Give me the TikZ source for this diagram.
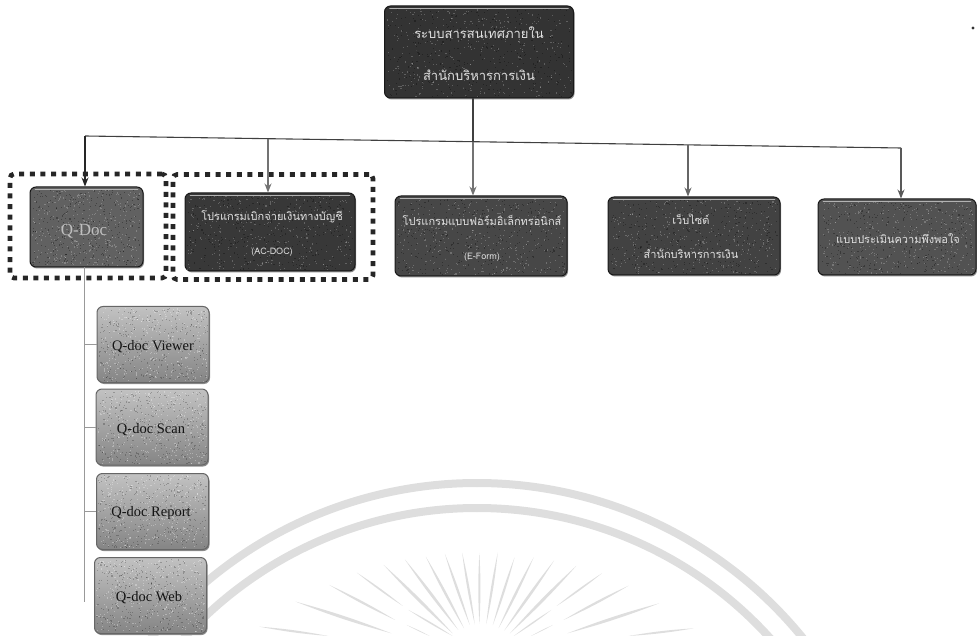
\documentclass[tikz,border=0pt]{standalone}
\usepackage{fontspec}
\setmainfont{Liberation Serif}
\newfontfamily\thaifont[Script=Thai]{Loma}
\usetikzlibrary{shadows,arrows.meta,calc}
\definecolor{wm}{HTML}{DEDEDE}
\tikzset{
  box/.style={rounded corners=6pt,inner sep=0pt,draw=#1,line width=1pt,
     general shadow={fill=black!45,shadow xshift=1pt,shadow yshift=-1.5pt}},
  darkbox/.style={box=black!90},
  childbox/.style={box=black!60,top color=black!24,bottom color=black!48,minimum width=112pt,minimum height=76pt},
  thaitext/.style={align=center,inner sep=0pt,text=black!12,font=\thaifont\fontsize{11}{34}\selectfont},
  childtext/.style={inner sep=0pt,text=black!92,font=\fontsize{14.5}{16}\selectfont},
  frame/.style={draw=black!85,line width=4.6pt,dash pattern=on 5pt off 5.6pt,rounded corners=4pt},
  link/.style={line width=1.1pt,draw=#1,-{Stealth[length=9pt,width=7pt]}},
  stub/.style={line width=0.9pt,draw=black!40},
  bus/.style={line width=1.1pt,draw=black!75},
  wmarc/.style={draw=wm,line width=8pt},
  strip/.style={line width=1.6pt,draw=black!30,line cap=round},
}
\newcommand{\lens}[4]{\fill[wm] (#1,#2) to[bend left=3] (#3,#4) to[bend left=3] (#1,#2);}
\newcommand{\speckle}[6]{%
  \foreach \i in {1,...,340}{%
    \pgfmathsetmacro{\px}{#1+rnd*#3}\pgfmathsetmacro{\py}{#2+rnd*#4}%
    \fill[#5,opacity=#6] (\px,\py) rectangle ++(1.1,1.1);%
  }}
\newcommand{\grain}[4]{\speckle{#1}{#2}{#3}{#4}{white}{.22}\speckle{#1}{#2}{#3}{#4}{black}{.3}}
\newcommand{\grainc}[4]{\speckle{#1}{#2}{#3}{#4}{white}{.3}\speckle{#1}{#2}{#3}{#4}{black}{.22}}
\begin{document}
\begin{tikzpicture}[x=1pt,y=-1pt]
\useasboundingbox (0,0) rectangle (977,636);
% watermark
\begin{scope}
\clip (0,0) rectangle (977,636);
\draw[wmarc] (477,903) ++(0,-420) arc[start angle=90,end angle=150,radius=-420];
\draw[wmarc] (477,903) ++(0,-420) arc[start angle=90,end angle=30,radius=-420];
\draw[wmarc] (477,903) ++(0,-395) arc[start angle=90,end angle=150,radius=-395];
\draw[wmarc] (477,903) ++(0,-395) arc[start angle=90,end angle=30,radius=-395];
\end{scope}
\begin{scope}[shift={(200,440)},x=0.3827pt,y=-0.3333pt]
\lens{480}{375}{660}{580}\lens{535}{358}{675}{570}\lens{590}{350}{690}{565}
\lens{640}{342}{705}{555}\lens{685}{338}{718}{553}\lens{730}{338}{730}{552}
\lens{778}{338}{748}{553}\lens{822}{352}{765}{556}\lens{872}{352}{780}{565}
\lens{925}{362}{795}{572}\lens{983}{378}{810}{580}
\lens{410}{398}{530}{498}\lens{338}{435}{510}{540}\lens{250}{485}{500}{580}\lens{155}{560}{335}{588}
\lens{1050}{400}{932}{498}\lens{1120}{437}{950}{540}\lens{1200}{490}{960}{580}\lens{1290}{565}{1120}{588}
\lens{545}{510}{660}{588}\lens{540}{555}{600}{588}\lens{918}{510}{820}{588}\lens{922}{555}{865}{588}
\end{scope}
% frames
\node[frame,minimum width=156pt,minimum height=104pt,inner sep=0pt] (f1) at (88,226) {};
\node[frame,minimum width=200pt,minimum height=105pt,inner sep=0pt] (f2) at (273,227) {};
% boxes
\node[darkbox,fill=black!80,minimum width=189pt,minimum height=92pt] (root) at (479,52) {};
\node[darkbox,fill=black!62,minimum width=113pt,minimum height=80pt] (qdoc) at (86.5,227) {};
\node[darkbox,fill=black!78,minimum width=170pt,minimum height=78pt] (ac) at (270,232) {};
\node[darkbox,fill=black!72,minimum width=172pt,minimum height=80pt] (ef) at (481,236) {};
\node[darkbox,fill=black!74,minimum width=172pt,minimum height=78pt] (web) at (694,236) {};
\node[darkbox,fill=black!68,minimum width=158pt,minimum height=76pt] (ev) at (897,237) {};
\node[childbox] (c1) at (153,344.5) {};
\node[childbox] (c2) at (152,427) {};
\node[childbox] (c3) at (152.5,511.5) {};
\node[childbox] (c4) at (150.5,595.5) {};
% texture
\pgfmathsetseed{7}
\grain{387}{8}{184}{88}
\grain{32}{189}{108}{76}
\grain{187}{195}{165}{74}
\grain{397}{198}{167}{76}
\grain{610}{199}{167}{74}
\grain{820}{201}{153}{72}
\grainc{99}{308}{108}{73}
\grainc{98}{391}{108}{72}
\grainc{98}{475}{108}{72}
\grainc{96}{559}{108}{72}
% top highlights
\foreach \n in {root,qdoc,ac,ef,web,ev}{
  \draw[strip] ([xshift=6pt,yshift=-3pt]\n.north west) -- ([xshift=-6pt,yshift=-3pt]\n.north east);
}
% labels
\node[thaitext,font=\thaifont\fontsize{13}{42}\selectfont] (rootT) at (479,54) {ระบบสารสนเทศภายใน\\สำนักบริหารการเงิน};
\node[inner sep=0pt,text=black!25,font=\fontsize{17}{20}\selectfont] (qdocT) at (84,231) {Q-Doc};
\node[thaitext] (acT) at (272,233) {โปรแกรมเบิกจ่ายเงินทางบัญชี\\{\fontsize{9}{10}\selectfont (AC-DOC)}};
\node[thaitext] (efT) at (482,238) {โปรแกรมแบบฟอร์มอิเล็กทรอนิกส์\\{\fontsize{9}{10}\selectfont (E-Form)}};
\node[thaitext] (webT) at (691,236) {เว็บไซต์\\สำนักบริหารการเงิน};
\node[thaitext] (evT) at (898,239) {แบบประเมินความพึงพอใจ};
\node[childtext] (c1T) at (153,347) {Q-doc Viewer};
\node[childtext] (c2T) at (151,430) {Q-doc Scan};
\node[childtext] (c3T) at (151,513) {Q-doc Report};
\node[childtext] (c4T) at (149,598) {Q-doc Web};
% connectors
\coordinate (b1) at (85,136);
\coordinate (b2) at (268,139);
\coordinate (b3) at (473,142);
\coordinate (b4) at (688,145);
\coordinate (b5) at (901,148);
\draw[bus] (b1) -- (b5);
\draw[bus] (b3 |- root.south) -- (b3);
\draw[link=black!85] (b1) -- (b1 |- qdoc.north);
\draw[link=black!55] (b2) -- (b2 |- ac.north);
\draw[link=black!55] (b3) -- (b3 |- ef.north);
\draw[link=black!60] (b4) -- (b4 |- web.north);
\draw[link=black!65] (b5) -- (b5 |- ev.north);
\coordinate (t0) at (84,602);
\draw[stub] (t0 |- qdoc.south) -- (t0);
\draw[stub] (t0 |- c1.west) -- (c1.west);
\draw[stub] (t0 |- c2.west) -- (c2.west);
\draw[stub] (t0 |- c3.west) -- (c3.west);
\fill[black!80] (973,28) circle (1.6);
\end{tikzpicture}
\end{document}
